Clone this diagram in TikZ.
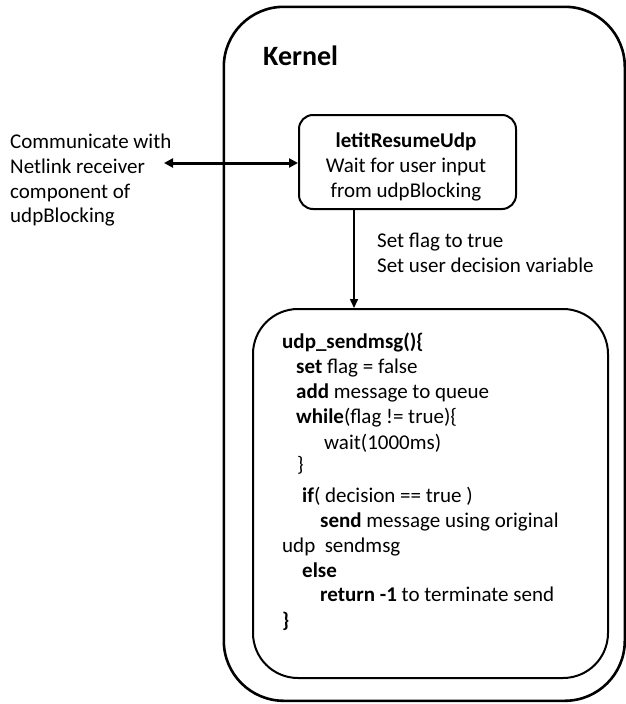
\documentclass[tikz,border=0pt]{standalone}
\usepackage{fontspec}
\setmainfont{Carlito}
\usetikzlibrary{arrows.meta}
\begin{document}
\begin{tikzpicture}[x=1pt,y=-1pt,
  txt/.style={inner sep=0pt,anchor=base west,font=\fontsize{21}{25}\selectfont},
  ctxt/.style={inner sep=0pt,anchor=base,font=\fontsize{21}{25}\selectfont},
  box/.style={draw,line width=2pt},
  arr/.style={line width=1.5pt,-{Triangle[length=9pt,width=8pt]}},
  darr/.style={line width=3pt,{Triangle[length=9pt,width=9pt]}-{Triangle[length=9pt,width=9pt]}}]
\useasboundingbox (0,0) rectangle (626,704);
% kernel
\node[draw,line width=2.6pt,rounded corners=60pt,minimum width=401pt,minimum height=694pt,anchor=north west,inner sep=0pt] (kernel) at (222.5,5.5) {};
\node[txt,font=\fontsize{28}{32}\selectfont\bfseries] (ktitle) at (263,65) {Kernel};
% letitResumeUdp box
\node[box,rounded corners=14pt,minimum width=217pt,minimum height=94pt,anchor=north west,inner sep=0pt] (letit) at (298,114) {};
\node[ctxt,font=\fontsize{21}{25}\selectfont\bfseries] (l1) at (406,147) {letitResumeUdp};
\node[ctxt] (l2) at (406,172) {Wait for user input};
\node[ctxt] (l3) at (406,197) {from udpBlocking};
% left text
\node[txt] (c1) at (10,148) {Communicate with};
\node[txt] (c2) at (10,173) {Netlink receiver};
\node[txt] (c3) at (10,198) {component of};
\node[txt] (c4) at (10,222) {udpBlocking};
\coordinate (lend) at (164,163);
\draw[darr] (lend) -- (letit.west |- lend);
% udp box
\node[box,rounded corners=45pt,minimum width=355pt,minimum height=369pt,anchor=north west,inner sep=0pt] (udp) at (252,308) {};
\coordinate (ax) at (354,0);
\draw[arr] (letit.south -| ax) -- (udp.north -| ax);
\node[txt] (s1) at (377,247) {Set flag to true};
\node[txt] (s2) at (377,272) {Set user decision variable};
% code
\node[txt,font=\fontsize{21}{25}\selectfont\bfseries] (u1) at (282,348) {udp\_sendmsg()\{};
\node[txt] (u2) at (296,373) {\textbf{set} flag = false};
\node[txt] (u3) at (296,398) {\textbf{add} message to queue};
\node[txt] (u4) at (296,423) {\textbf{while}(flag != true)\{};
\node[txt] (u5) at (324,449) {wait(1000ms)};
\node[txt] (u6) at (297,471) {\}};
\node[txt] (u7) at (302,502) {\textbf{if}( decision == true )};
\node[txt] (u8) at (320,527) {\textbf{send} message using original};
\node[txt] (u9) at (282,552) {udp\ \ sendmsg};
\node[txt] (u10) at (302,577) {\textbf{else}};
\node[txt] (u11) at (320,601) {\textbf{return} \textbf{-1} to terminate send};
\node[txt] (u12) at (282,627) {\textbf{\}}};
\end{tikzpicture}
\end{document}
